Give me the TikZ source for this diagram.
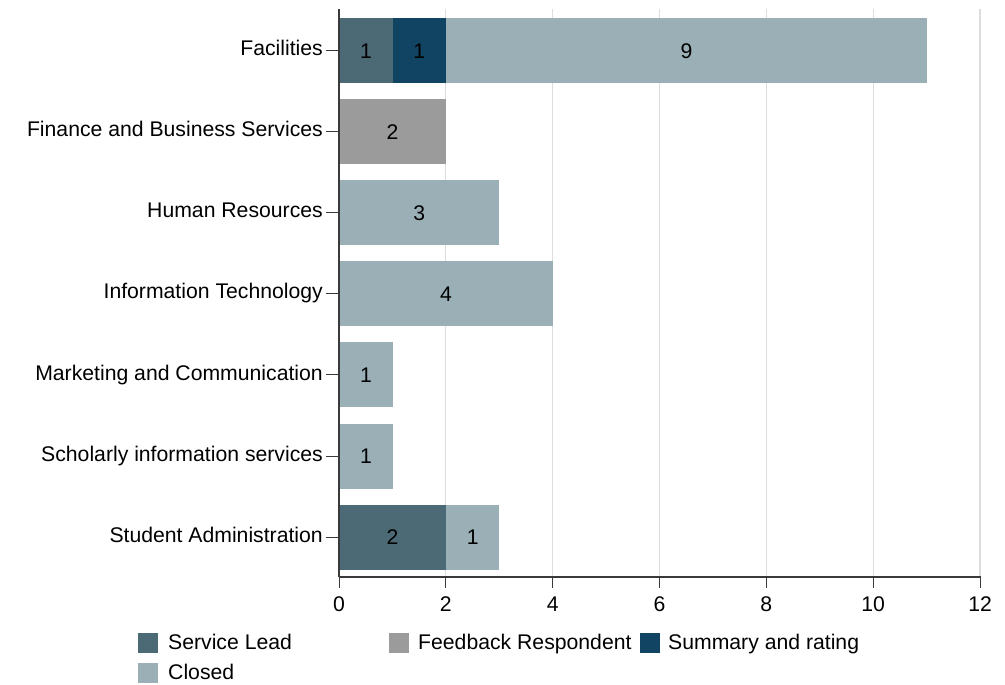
\documentclass[tikz,border=0pt]{standalone}
\usepackage{fontspec}
\setmainfont{Liberation Sans}
\definecolor{slead}{HTML}{4B6A75}
\definecolor{summ}{HTML}{114462}
\definecolor{closed}{HTML}{9BB0B6}
\definecolor{fresp}{HTML}{9B9B9B}
\definecolor{gridc}{HTML}{DDDDDD}
\definecolor{axisc}{HTML}{3A3A3A}
\newcommand\U{53.42}
\newcommand\XO{339}
% \segm{name}{y}{start}{length}{colour}{label}
\newcommand\segm[6]{%
  \node[seg, fill=#5, minimum width={#4*\U pt}] (#1) at ({\XO+#3*\U},#2) {#6};}
\begin{document}
\begin{tikzpicture}[x=1pt,y=-1pt,
  font=\fontsize{21.2}{25}\selectfont,
  seg/.style={draw=none, inner sep=0pt, minimum height=65pt, anchor=west, text=black,
              text height=15.2pt, text depth=0pt},
  cat/.style={anchor=east, inner sep=0pt, text height=15.2pt, text depth=0pt},
  ticklab/.style={anchor=center, inner sep=0pt, text height=15.2pt, text depth=0pt},
  leglab/.style={anchor=west, inner sep=0pt, text height=15.2pt, text depth=0pt},
  legbox/.style={draw=none, inner sep=0pt, minimum width=20pt, minimum height=20pt, anchor=west},
  gridline/.style={draw=gridc, line width=1.2pt},
  axisline/.style={draw=axisc, line width=1.3pt},
  tickmark/.style={draw=axisc, line width=1pt}]
\useasboundingbox (0,0) rectangle (1005,685);
% grid
\foreach \k in {2,4,...,12} {
  \draw[gridline] ({\XO+\k*\U},9) -- ({\XO+\k*\U},577);
}
% bars
\segm{f1}{50.5}{0}{1}{slead}{1}
\segm{f2}{50.5}{1}{1}{summ}{1}
\segm{f3}{50.5}{2}{9}{closed}{9}
\segm{fb}{131.6}{0}{2}{fresp}{2}
\segm{hr}{212.7}{0}{3}{closed}{3}
\segm{it}{293.8}{0}{4}{closed}{4}
\segm{mc}{374.9}{0}{1}{closed}{1}
\segm{si}{456.0}{0}{1}{closed}{1}
\segm{sa1}{537.1}{0}{2}{slead}{2}
\segm{sa2}{537.1}{2}{1}{closed}{1}
% axes
\draw[axisline] (\XO,9) -- (\XO,577);
\draw[axisline] (\XO,577) -- (981,577);
% category labels and ticks
\foreach \y/\t [count=\i] in {50.5/Facilities,131.6/Finance and Business Services,212.7/Human Resources,293.8/Information Technology,374.9/Marketing and Communication,456.0/Scholarly information services,537.1/Student Administration} {
  \node[cat] (c\i) at (323,\y-2.5) {\t};
  \draw[tickmark] (326,\y) -- (\XO,\y);
}
% x ticks
\foreach \k in {0,2,...,12} {
  \draw[tickmark] ({\XO+\k*\U},577) -- ({\XO+\k*\U},588);
  \node[ticklab] (t\k) at ({\XO+\k*\U},604) {\k};
}
% legend
\node[legbox, fill=slead] (l1) at (138,643) {};
\node[leglab] (l1t) at (168,642) {Service Lead};
\node[legbox, fill=fresp] (l2) at (389,643) {};
\node[leglab] (l2t) at (418,642) {Feedback Respondent};
\node[legbox, fill=summ] (l3) at (640,643) {};
\node[leglab] (l3t) at (668,642) {Summary and rating};
\node[legbox, fill=closed] (l4) at (138,673) {};
\node[leglab] (l4t) at (168,672) {Closed};
\end{tikzpicture}
\end{document}
